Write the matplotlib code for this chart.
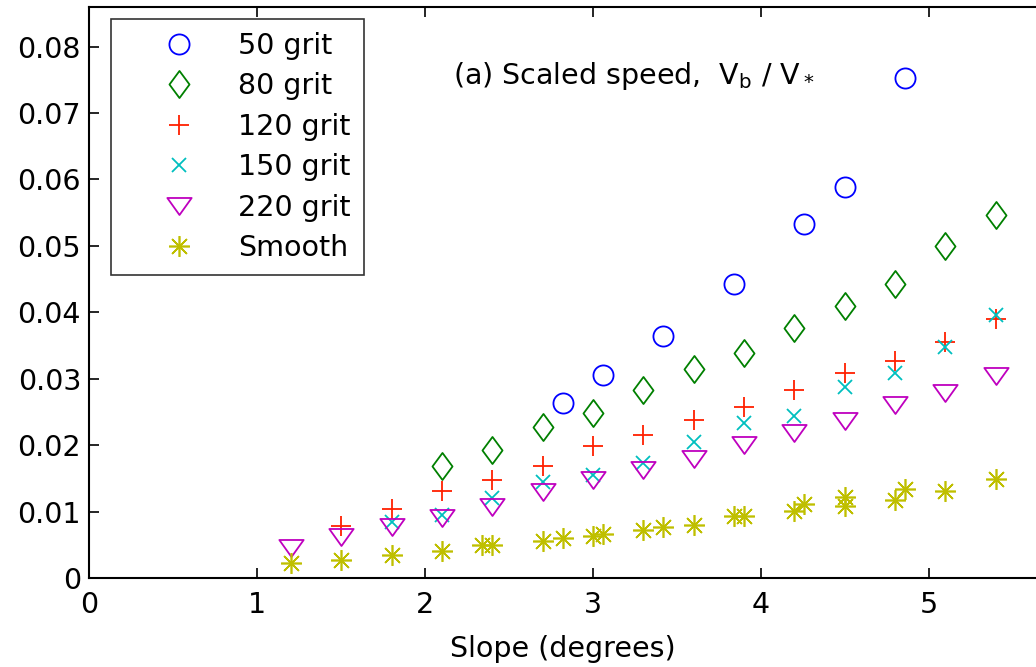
import matplotlib
matplotlib.use("Agg")
import matplotlib.pyplot as plt
from matplotlib.path import Path
import matplotlib.ticker as mticker

plt.rcParams["font.family"] = ["DejaVu Sans"]
plt.rcParams["mathtext.fontset"] = "dejavusans"

# ── Data ───────────────────────────────────────────────────────────────────
grid_x = [1.2, 1.5, 1.8, 2.1, 2.4, 2.7, 3.0, 3.3, 3.6, 3.9, 4.2, 4.5, 4.8, 5.1, 5.4]

x_50 = [2.82, 3.06, 3.42, 3.84, 4.26, 4.50, 4.86]
y_50 = [0.0264, 0.0306, 0.0364, 0.0443, 0.0533, 0.0589, 0.0753]

x_80 = grid_x[3:]
y_80 = [0.0169, 0.0192, 0.0227, 0.0248, 0.0283, 0.0315, 0.0338, 0.0377,
        0.0410, 0.0442, 0.0500, 0.0546]

x_120 = grid_x[1:]
y_120 = [0.0078, 0.0104, 0.0131, 0.0148, 0.0168, 0.0198, 0.0216, 0.0238,
         0.0257, 0.0283, 0.0309, 0.0327, 0.0356, 0.0390]

x_150 = grid_x[2:]
y_150 = [0.0085, 0.0095, 0.0121, 0.0145, 0.0155, 0.0173, 0.0204, 0.0234,
         0.0244, 0.0287, 0.0309, 0.0348, 0.0396]

x_220 = grid_x
y_220 = [0.0045, 0.0061, 0.0077, 0.0090, 0.0107, 0.0130, 0.0147, 0.0162,
         0.0179, 0.0200, 0.0218, 0.0236, 0.0260, 0.0278, 0.0304]

x_smooth = [1.2, 1.5, 1.8, 2.1, 2.34, 2.4, 2.7, 2.82, 3.0, 3.06, 3.3, 3.42,
            3.6, 3.84, 3.9, 4.2, 4.26, 4.50, 4.5, 4.8, 4.86, 5.1, 5.4]
y_smooth = [0.0022, 0.0027, 0.0035, 0.0041, 0.0049, 0.0050, 0.0056, 0.0060,
            0.0063, 0.0066, 0.0072, 0.0077, 0.0080, 0.0094, 0.0094, 0.0101,
            0.0111, 0.0122, 0.0108, 0.0117, 0.0134, 0.0131, 0.0149]

labels = ["50 grit", "80 grit", "120 grit", "150 grit", "220 grit", "Smooth"]

# ── Matlab-like markers ────────────────────────────────────────────────────
DIAMOND = Path([(0, 1), (0.74, 0), (0, -1), (-0.74, 0), (0, 1)],
               [Path.MOVETO, Path.LINETO, Path.LINETO, Path.LINETO, Path.CLOSEPOLY])
TRI_DOWN = Path([(-1, 0.7), (1, 0.7), (0, -0.7), (-1, 0.7)],
                [Path.MOVETO, Path.LINETO, Path.LINETO, Path.CLOSEPOLY])

BLUE = "#0000ff"
GREEN = "#008000"
RED = "#ff2000"
CYAN = "#00bfbf"
MAGENTA = "#bf00bf"
OLIVE = "#bfbf00"
FS = 20.5

fig = plt.figure(figsize=(10.36, 6.67), dpi=100)
ax = fig.add_axes([0.0863, 0.1334, 1 - 0.0863, 0.990 - 0.1334])

common = dict(linestyle="none", markerfacecolor="none")
ax.plot(x_50, y_50, marker="o", ms=14.5, mew=1.3, color=BLUE, label=labels[0], **common)
ax.plot(x_80, y_80, marker=DIAMOND, ms=19.5, mew=1.3, color=GREEN, label=labels[1], **common)
ax.plot(x_120, y_120, marker="+", ms=15, mew=1.3, color=RED, label=labels[2], **common)
ax.plot(x_150, y_150, marker="x", ms=10.5, mew=1.3, color=CYAN, label=labels[3], **common)
ax.plot(x_220, y_220, marker=TRI_DOWN, ms=17.5, mew=1.3, color=MAGENTA, label=labels[4], **common)
ax.plot(x_smooth, y_smooth, marker=(8, 2, 0), ms=15, mew=1.2, color=OLIVE, label=labels[5], **common)

ax.set_xlim(0, 5.64)
ax.set_ylim(0, 0.086)
ax.set_xticks([0, 1, 2, 3, 4, 5])
ax.set_yticks([0, 0.01, 0.02, 0.03, 0.04, 0.05, 0.06, 0.07, 0.08])
ax.yaxis.set_major_formatter(mticker.FuncFormatter(lambda v, _: f"{v:g}"))
ax.tick_params(direction="in", length=7, width=1.2, labelsize=FS,
               top=True, right=False)
ax.tick_params(axis="x", pad=9)
ax.tick_params(axis="y", pad=6)
for side in ["left", "top", "bottom"]:
    ax.spines[side].set_linewidth(1.5)
ax.spines["right"].set_visible(False)

ax.set_xlabel("Slope (degrees)", fontsize=FS, labelpad=12)

ax.text(0.384, 0.878, r"(a) Scaled speed,  V$_{\rm b}$ / V$_*$",
        transform=ax.transAxes, fontsize=FS, va="center", ha="left")

leg = ax.legend(loc="upper left", bbox_to_anchor=(0.0228, 0.9785), borderaxespad=0,
                fontsize=FS, frameon=True, fancybox=False, edgecolor="black",
                handlelength=3.9, handletextpad=0.12, labelspacing=0.44,
                borderpad=0.45)
leg.get_frame().set_linewidth(1.2)

fig.savefig("out.png", dpi=100, facecolor="white")
